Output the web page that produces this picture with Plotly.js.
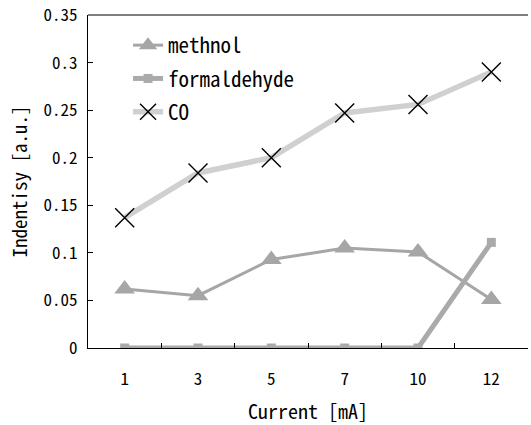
<!DOCTYPE html>
<html><head><meta charset="utf-8">
<script src="https://cdn.plot.ly/plotly-3.0.1.min.js"></script>
<style>body{margin:0;background:#fff}#c{width:531px;height:425px}</style>
</head><body><div id="c"></div>
<script>
const categories = ["1","3","5","7","10","12"];
const methnol = [0.062, 0.055, 0.093, 0.105, 0.101, 0.051];
const formaldehyde = [0, 0, 0, 0, 0, 0.111];
const co = [0.137, 0.184, 0.200, 0.247, 0.256, 0.290];
const yTicks = [0, 0.05, 0.1, 0.15, 0.2, 0.25, 0.3, 0.35];
const yTickText = ["0","0.05","0.1","0.15","0.2","0.25","0.3","0.35"];

const F = "Noto Sans Mono CJK JP, monospace";
const traces = [
  {x: categories, y: methnol, name: "methnol", mode: "lines+markers", legendgroup: "a",
   line: {color: "#a6a6a6", width: 3}, marker: {symbol: "triangle-up", size: 18, color: "#a6a6a6"}},
  {x: categories, y: formaldehyde, name: "formaldehyde", mode: "lines+markers", legendgroup: "b",
   line: {color: "#aaaaaa", width: 5}, marker: {symbol: "square", size: 9, color: "#aaaaaa"}},
  {x: categories, y: co, name: "CO", mode: "lines+markers", legendgroup: "c",
   line: {color: "#d0d0d0", width: 5.5}, marker: {symbol: "x-thin", size: 19, color: "#000", line: {color: "#000", width: 1.4}}}
];
const layout = {
  width: 531, height: 425,
  margin: {l: 88, r: 3, t: 15, b: 77},
  paper_bgcolor: "#fff", plot_bgcolor: "#fff",
  showlegend: true,
  legend: {x: 0.091, y: 0.97, xanchor: "left", yanchor: "top", bgcolor: "rgba(0,0,0,0)",
           font: {family: F, size: 21, color: "#000"}, tracegroupgap: 3, itemwidth: 30},
  xaxis: {type: "category", range: [-0.5, 5.5], showline: true, linecolor: "#000", linewidth: 1,
          mirror: false, showgrid: false, zeroline: false,
          ticks: "inside", ticklen: 5, tickcolor: "#000", tickson: "boundaries",
          ticklabelstandoff: 16,
          tickfont: {family: F, size: 17, color: "#000"},
          title: {text: "Current [mA]", font: {family: F, size: 20, color: "#000"}, standoff: 15}},
  yaxis: {range: [0, 0.35], showline: true, linecolor: "#000", linewidth: 1, showgrid: false, zeroline: false,
          tickvals: yTicks, ticktext: yTickText, ticks: "inside", ticklen: 5, tickcolor: "#000",
          ticklabelstandoff: 6,
          tickfont: {family: F, size: 17, color: "#000"},
          title: {text: "Indentisy [a.u.]", font: {family: F, size: 19, color: "#000"}, standoff: 10}},
  shapes: [{type: "line", xref: "paper", yref: "paper", x0: 0, x1: 1, y0: 1, y1: 1, line: {color: "#000", width: 1}}]
};
Plotly.newPlot("c", traces, layout, {displayModeBar: false, staticPlot: true});
</script></body></html>
